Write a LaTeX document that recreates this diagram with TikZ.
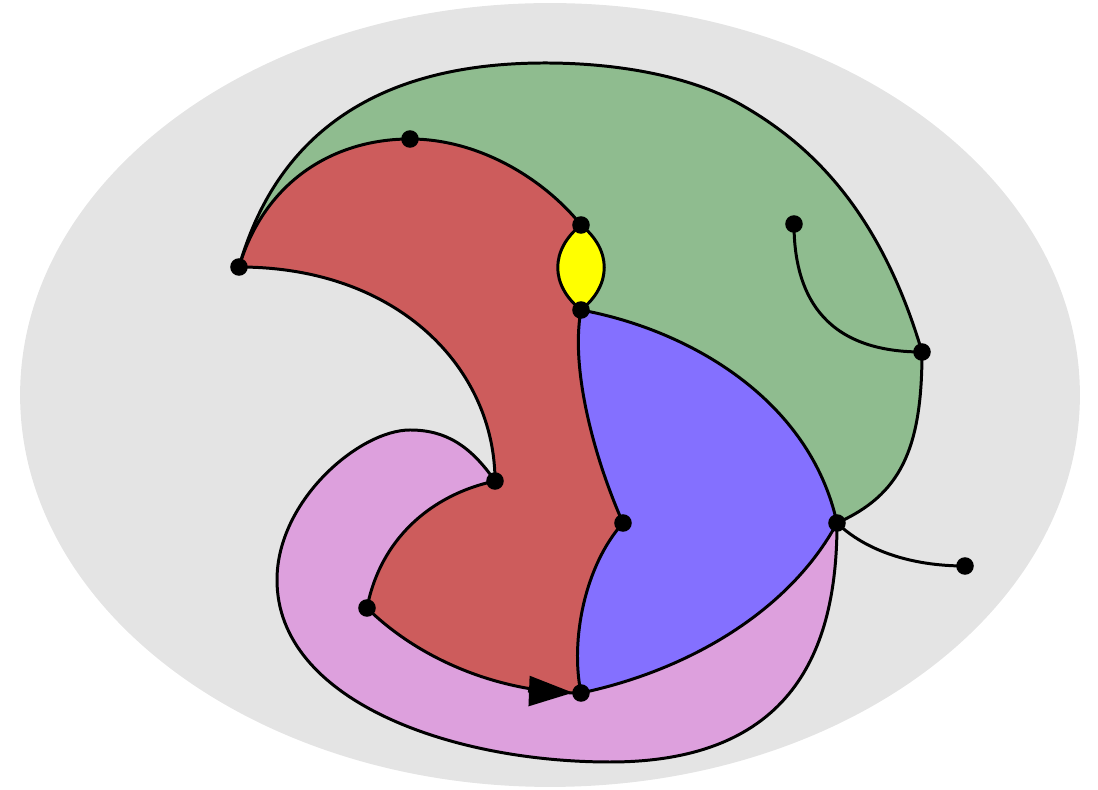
\documentclass[tikz,border=0pt]{standalone}
\usepackage{tikz}
\usetikzlibrary{arrows.meta}
\definecolor{bggray}{HTML}{E4E4E4}
\definecolor{facegreen}{HTML}{8FBC8F}
\definecolor{facered}{HTML}{CD5C5C}
\definecolor{faceblue}{HTML}{8470FF}
\definecolor{facepink}{HTML}{DDA0DD}
\definecolor{faceyellow}{HTML}{FFFF00}
\tikzset{
  link/.style={draw=black,line width=1.7pt},
  face/.style={draw=none},
  vert/.style={fill=black},
  dirlink/.style={link,-{Triangle[length=25pt,width=17pt]},shorten >=4.6pt},
}
\begin{document}
\begin{tikzpicture}[x=0.02cm,y=0.02cm]
  \useasboundingbox (0,0) rectangle (1098,790);
  \fill[bggray] (550,395) ellipse [x radius=10.6cm, y radius=7.84cm];
  % vertices
  \coordinate (a) at (239,523);
  \coordinate (b) at (410,651);
  \coordinate (c) at (581,565);
  \coordinate (d) at (581,480);
  \coordinate (e) at (794,566);
  \coordinate (f) at (922,438);
  \coordinate (g) at (495,309);
  \coordinate (h) at (623,267);
  \coordinate (i) at (837,267);
  \coordinate (j) at (965,224);
  \coordinate (k) at (367,182);
  \coordinate (l) at (581,97);
  \coordinate (ktail) at (528,99);
  % faces
  \path[face,fill=facegreen] (a) .. controls (275,650) and (370,727) .. (545,727)
    .. controls (620,727) and (695,713) .. (745,683) .. controls (810,645) and (880,580) .. (f)
    .. controls (922,340) and (900,295) .. (i) .. controls (810,390) and (690,460) .. (d)
    .. controls (612,505) and (612,540) .. (c) .. controls (545,610) and (480,651) .. (b)
    .. controls (335,651) and (265,610) .. (a) -- cycle;
  \path[face,fill=facered] (a) .. controls (265,610) and (335,651) .. (b)
    .. controls (480,651) and (545,610) .. (c) .. controls (550,540) and (550,505) .. (d)
    .. controls (570,420) and (595,330) .. (h) .. controls (585,225) and (570,150) .. (l)
    .. controls (500,97) and (420,130) .. (k) .. controls (380,250) and (430,295) .. (g)
    .. controls (495,420) and (400,523) .. (a) -- cycle;
  \path[face,fill=faceyellow] (c) .. controls (550,540) and (550,505) .. (d)
    .. controls (612,505) and (612,540) .. (c) -- cycle;
  \path[face,fill=faceblue] (d) .. controls (690,460) and (810,390) .. (i)
    .. controls (790,180) and (690,120) .. (l) .. controls (570,150) and (585,225) .. (h)
    .. controls (595,330) and (570,420) .. (d) -- cycle;
  \path[face,fill=facepink] (g) .. controls (430,295) and (380,250) .. (k)
    .. controls (420,130) and (500,97) .. (l) .. controls (690,120) and (790,180) .. (i)
    .. controls (837,150) and (800,28) .. (610,28) .. controls (450,28) and (277,90) .. (277,210)
    .. controls (277,290) and (360,360) .. (410,360) .. controls (445,360) and (470,345) .. (g) -- cycle;
  % edges
  \draw[link] (a) .. controls (275,650) and (370,727) .. (545,727)
    .. controls (620,727) and (695,713) .. (745,683) .. controls (810,645) and (880,580) .. (f);
  \draw[link] (f) .. controls (922,340) and (900,295) .. (i);
  \draw[link] (a) .. controls (265,610) and (335,651) .. (b);
  \draw[link] (b) .. controls (480,651) and (545,610) .. (c);
  \draw[link] (c) .. controls (550,540) and (550,505) .. (d);
  \draw[link] (c) .. controls (612,540) and (612,505) .. (d);
  \draw[link] (d) .. controls (690,460) and (810,390) .. (i);
  \draw[link] (e) .. controls (794,500) and (820,438) .. (f);
  \draw[link] (a) .. controls (400,523) and (495,420) .. (g);
  \draw[link] (d) .. controls (570,420) and (595,330) .. (h);
  \draw[link] (h) .. controls (585,225) and (570,150) .. (l);
  \draw[link] (l) .. controls (690,120) and (790,180) .. (i);
  \draw[link] (g) .. controls (430,295) and (380,250) .. (k);
  \draw[link] (k) .. controls (420,130) and (500,97) .. (l);
  \draw[dirlink] (ktail) -- (l);
  \draw[link] (g) .. controls (470,345) and (445,360) .. (410,360)
    .. controls (360,360) and (277,290) .. (277,210) .. controls (277,90) and (450,28) .. (610,28)
    .. controls (800,28) and (837,150) .. (i);
  \draw[link] (i) .. controls (865,240) and (910,224) .. (j);
  \foreach \v in {a,b,c,d,e,f,g,h,i,j,k,l}
    \fill[vert] (\v) circle (5pt);
\end{tikzpicture}
\end{document}
